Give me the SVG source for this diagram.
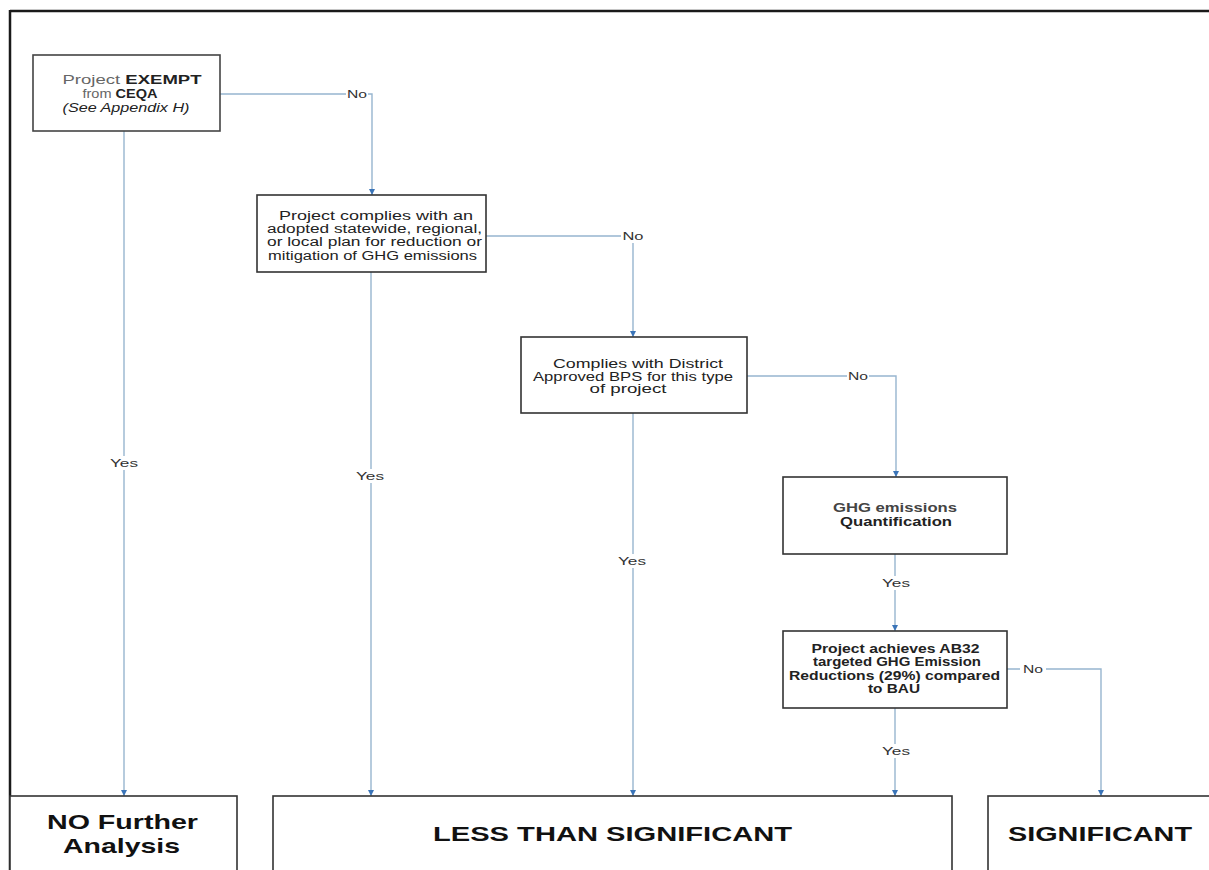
<svg xmlns="http://www.w3.org/2000/svg" width="1209" height="870" viewBox="0 0 1209 870">
<style>
.box{fill:#fff;stroke:#333;stroke-width:1.6}
.t{font-family:"Liberation Sans",Arial,sans-serif;font-size:12.5px;fill:#222;text-anchor:middle}
.b{font-weight:bold}
.g{fill:#666}
.big{font-family:"Liberation Sans",Arial,sans-serif;font-size:21px;font-weight:bold;fill:#111;text-anchor:middle}
.ln{fill:none;stroke:#97b5cf;stroke-width:1.4}
.lbl{font-family:"Liberation Sans",Arial,sans-serif;font-size:11.5px;fill:#333;text-anchor:middle}
.bg{fill:#fff}
</style>
<defs>
<marker id="arr" viewBox="0 0 10 10" refX="10" refY="5" markerWidth="6" markerHeight="6" markerUnits="userSpaceOnUse" orient="auto">
<path d="M0,0 L10,5 L0,10 z" fill="#3a74b8"/>
</marker>
</defs>
<rect width="1209" height="870" fill="#fff"/>
<g id="frame">
<line x1="10" y1="11" x2="1209" y2="11" stroke="#1a1a1a" stroke-width="2.5"/>
<line x1="10" y1="10" x2="10" y2="870" stroke="#1a1a1a" stroke-width="2.5"/>
</g>
<g id="connectors">
<polyline class="ln" points="220,94 372,94 372,195" marker-end="url(#arr)"/>
<polyline class="ln" points="124,131 124,796" marker-end="url(#arr)"/>
<polyline class="ln" points="486,236 633,236 633,337" marker-end="url(#arr)"/>
<polyline class="ln" points="371,272 371,796" marker-end="url(#arr)"/>
<polyline class="ln" points="747,376 896,376 896,477" marker-end="url(#arr)"/>
<polyline class="ln" points="633,413 633,796" marker-end="url(#arr)"/>
<polyline class="ln" points="895,554 895,631" marker-end="url(#arr)"/>
<polyline class="ln" points="895,708 895,796" marker-end="url(#arr)"/>
<polyline class="ln" points="1007,669 1101,669 1101,796" marker-end="url(#arr)"/>
<rect class="bg" x="346" y="87" width="22" height="14"/>
<text class="lbl" x="357" y="98" textLength="20" lengthAdjust="spacingAndGlyphs">No</text>
<rect class="bg" x="109" y="456" width="30" height="14"/>
<text class="lbl" x="124" y="467" textLength="28" lengthAdjust="spacingAndGlyphs">Yes</text>
<rect class="bg" x="621" y="229" width="24" height="14"/>
<text class="lbl" x="633" y="240" textLength="21" lengthAdjust="spacingAndGlyphs">No</text>
<rect class="bg" x="355" y="469" width="30" height="14"/>
<text class="lbl" x="370" y="480" textLength="28" lengthAdjust="spacingAndGlyphs">Yes</text>
<rect class="bg" x="847" y="369" width="22" height="14"/>
<text class="lbl" x="858" y="380" textLength="20" lengthAdjust="spacingAndGlyphs">No</text>
<rect class="bg" x="617" y="554" width="30" height="14"/>
<text class="lbl" x="632" y="565" textLength="28" lengthAdjust="spacingAndGlyphs">Yes</text>
<rect class="bg" x="881" y="576" width="30" height="14"/>
<text class="lbl" x="896" y="587" textLength="28" lengthAdjust="spacingAndGlyphs">Yes</text>
<rect class="bg" x="1020" y="662" width="26" height="14"/>
<text class="lbl" x="1033" y="673" textLength="20" lengthAdjust="spacingAndGlyphs">No</text>
<rect class="bg" x="881" y="744" width="30" height="14"/>
<text class="lbl" x="896" y="755" textLength="28" lengthAdjust="spacingAndGlyphs">Yes</text>
</g>
<g id="n1">
<rect class="box" x="33" y="55" width="187" height="76" style="stroke:#444"/>
<text class="t" x="132" y="84" textLength="139" lengthAdjust="spacingAndGlyphs"><tspan class="g">Project </tspan><tspan class="b">EXEMPT</tspan></text>
<text class="t" x="120" y="98" textLength="75" lengthAdjust="spacingAndGlyphs"><tspan class="g">from </tspan><tspan class="b">CEQA</tspan></text>
<text class="t" x="126" y="112" textLength="127" lengthAdjust="spacingAndGlyphs" font-style="italic">(See Appendix H)</text>
</g>
<g id="n2">
<rect class="box" x="257" y="195" width="229" height="77"/>
<text class="t" x="376" y="219.5" textLength="194" lengthAdjust="spacingAndGlyphs">Project complies with an</text>
<text class="t" x="374.5" y="233" textLength="215" lengthAdjust="spacingAndGlyphs">adopted statewide, regional,</text>
<text class="t" x="374.5" y="246" textLength="215" lengthAdjust="spacingAndGlyphs">or local plan for reduction or</text>
<text class="t" x="372.5" y="259.5" textLength="209" lengthAdjust="spacingAndGlyphs">mitigation of GHG emissions</text>
</g>
<g id="n3">
<rect class="box" x="521" y="337" width="226" height="76"/>
<text class="t" x="638" y="367.5" textLength="170" lengthAdjust="spacingAndGlyphs">Complies with District</text>
<text class="t" x="633" y="380.5" textLength="200" lengthAdjust="spacingAndGlyphs">Approved BPS for this type</text>
<text class="t" x="628" y="392.5" textLength="77" lengthAdjust="spacingAndGlyphs">of project</text>
</g>
<g id="n4">
<rect class="box" x="783" y="477" width="224" height="77"/>
<text class="t b" x="895" y="512" textLength="124" lengthAdjust="spacingAndGlyphs" style="fill:#444">GHG emissions</text>
<text class="t b" x="896" y="526" textLength="112" lengthAdjust="spacingAndGlyphs">Quantification</text>
</g>
<g id="n5">
<rect class="box" x="783" y="631" width="224" height="77"/>
<text class="t b" x="895.5" y="652.5" textLength="168" lengthAdjust="spacingAndGlyphs">Project achieves AB32</text>
<text class="t b" x="897" y="666" textLength="168" lengthAdjust="spacingAndGlyphs">targeted GHG Emission</text>
<text class="t b" x="894.5" y="679.5" textLength="211" lengthAdjust="spacingAndGlyphs">Reductions (29%) compared</text>
<text class="t b" x="894" y="693" textLength="52" lengthAdjust="spacingAndGlyphs">to BAU</text>
</g>
<g id="n6">
<rect class="box" x="10" y="796" width="227" height="90"/>
<text class="big" x="122.5" y="829" textLength="151" lengthAdjust="spacingAndGlyphs">NO Further</text>
<text class="big" x="121.5" y="853" textLength="117" lengthAdjust="spacingAndGlyphs">Analysis</text>
</g>
<g id="n7">
<rect class="box" x="273" y="796" width="679" height="90"/>
<text class="big" x="612.5" y="841" textLength="359" lengthAdjust="spacingAndGlyphs">LESS THAN SIGNIFICANT</text>
</g>
<g id="n8">
<rect class="box" x="988" y="796" width="240" height="90"/>
<text class="big" x="1100" y="841" textLength="184" lengthAdjust="spacingAndGlyphs">SIGNIFICANT</text>
</g>
</svg>
